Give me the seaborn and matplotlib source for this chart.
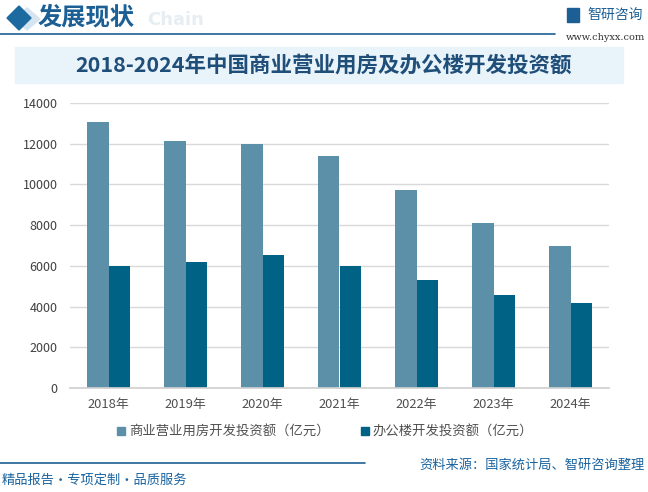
import matplotlib
matplotlib.use("agg")
import matplotlib.pyplot as plt
from matplotlib.patches import Polygon, Rectangle
from matplotlib.lines import Line2D
import seaborn as sns
import pandas as pd

years = ['2018年', '2019年', '2020年', '2021年', '2022年', '2023年', '2024年']
commercial = [13050, 12130, 11985, 11395, 9725, 8105, 6975]
office = [6005, 6190, 6530, 6005, 5305, 4570, 4175]
seriesNames = ['商业营业用房开发投资额（亿元）', '办公楼开发投资额（亿元）']
barColors = ['#5b90a8', '#006385']
yTicks = [0, 2000, 4000, 6000, 8000, 10000, 12000, 14000]

sns.set_theme(style='white')
plt.rcParams['font.family'] = ['Noto Sans CJK SC', 'DejaVu Sans']

df = pd.DataFrame({
    'year': years * 2,
    'value': commercial + office,
    'series': [seriesNames[0]] * len(years) + [seriesNames[1]] * len(years),
})

fig = plt.figure(figsize=(6.48, 4.92), dpi=100)
fig.patch.set_facecolor('white')
ax = fig.add_axes([70 / 648, 1 - 388 / 492, 539 / 648, 285 / 492])

sns.barplot(data=df, x='year', y='value', hue='series', palette=barColors,
            width=0.57, saturation=1, ax=ax, legend=False,
            edgecolor='none', linewidth=0)

ax.set_ylim(0, 14000)
ax.set_xlim(-0.5, len(years) - 0.5)
ax.set_yticks(yTicks)
ax.set_yticklabels([str(t) for t in yTicks], fontsize=9, color='#404040')
ax.set_xlabel('')
ax.set_ylabel('')
ax.yaxis.grid(True, color='#d9d9d9', linewidth=1)
ax.set_axisbelow(True)
for s in ['top', 'right', 'left']:
    ax.spines[s].set_visible(False)
ax.spines['bottom'].set_color('#d0d0d0')
ax.tick_params(axis='y', length=0, pad=9)
ax.tick_params(axis='x', length=0, pad=7, labelsize=9.3, labelcolor='#505050')
ax.set_xticks([i - 0.5 for i in range(len(years) + 1)], minor=True)
ax.tick_params(axis='x', which='minor', length=5, color='#d0d0d0', direction='out')

# legend
handles = [Line2D([], [], marker='s', linestyle='', markersize=6, color=c) for c in barColors]
fig.legend(handles, seriesNames, loc='center', bbox_to_anchor=(0.5, 1 - 432 / 492),
           ncol=2, frameon=False, fontsize=9.6, handletextpad=0.05, columnspacing=2.2,
           handlelength=1.0, labelcolor='#505050')

# header
fig.patches.append(Polygon([[27 / 648, 1 - 8 / 492], [40 / 648, 1 - 19 / 492],
                            [27 / 648, 1 - 30 / 492], [14 / 648, 1 - 19 / 492]],
                           closed=True, transform=fig.transFigure, color='#d4e4f0'))
fig.patches.append(Polygon([[19 / 648, 1 - 6 / 492], [31 / 648, 1 - 18 / 492],
                            [19 / 648, 1 - 30 / 492], [7 / 648, 1 - 18 / 492]],
                           closed=True, transform=fig.transFigure, color='#1c6aa0'))
fig.text(147 / 648, 1 - 20 / 492, 'Chain', fontsize=13, fontweight='bold',
         color='#e6eef4', va='center', ha='left', family=['DejaVu Sans'])
fig.text(38 / 648, 1 - 17 / 492, '发展现状', fontsize=17.5, fontweight='bold',
         color='#1c5f94', va='center', ha='left')
fig.add_artist(Line2D([0, 555 / 648], [1 - 34 / 492, 1 - 34 / 492],
                      transform=fig.transFigure, color='#1c5f94', linewidth=1.2))
fig.patches.append(Rectangle((567 / 648, 1 - 22 / 492), 12 / 648, 14 / 492,
                             transform=fig.transFigure, color='#1c5f94'))
fig.text(587 / 648, 1 - 15 / 492, '智研咨询', fontsize=10, color='#1c5f94',
         va='center', ha='left')
fig.text(645 / 648, 1 - 37 / 492, 'www.chyxx.com', fontsize=7, color='#333333',
         va='center', ha='right', family=['DejaVu Serif'])

# title band
fig.patches.append(Rectangle((15 / 648, 1 - 83 / 492), 608 / 648, 36 / 492,
                             transform=fig.transFigure, color='#e8f3fa'))
fig.text(324 / 648, 1 - 66 / 492, '2018-2024年中国商业营业用房及办公楼开发投资额',
         fontsize=15.5, fontweight='bold', color='#1f4e79', va='center', ha='center')

# footer
fig.add_artist(Line2D([0, 365 / 648], [1 - 463 / 492, 1 - 463 / 492],
                      transform=fig.transFigure, color='#1c5f94', linewidth=1.2))
fig.text(2 / 648, 1 - 480 / 492, '精品报告·专项定制·品质服务', fontsize=9.5,
         color='#1a64a0', va='center', ha='left')
fig.text(645 / 648, 1 - 465 / 492, '资料来源：国家统计局、智研咨询整理', fontsize=9.5,
         color='#1a64a0', va='center', ha='right')

fig.savefig('out.png', dpi=100)
plt.close('all')
